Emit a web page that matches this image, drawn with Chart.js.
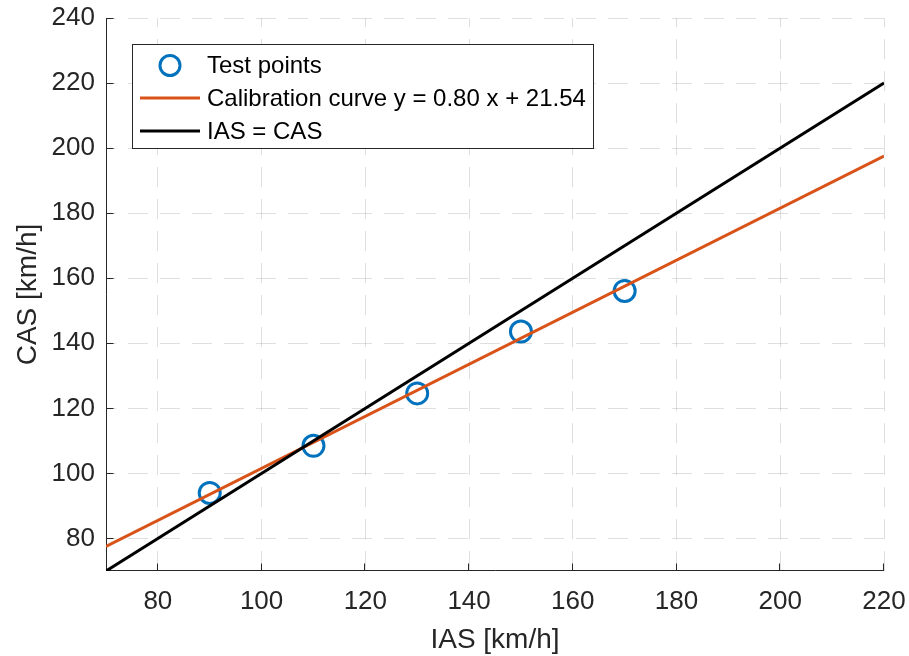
<!DOCTYPE html>
<html><head><meta charset="utf-8">
<script src="https://cdn.jsdelivr.net/npm/chart.js@4.4.1/dist/chart.umd.min.js"></script>
<style>html,body{margin:0;padding:0;background:#fff;}</style>
</head><body>
<canvas id="c" width="909" height="656" style="display:block;width:909px;height:656px"></canvas>
<script>
// ---- data ----
const testIAS = [90, 110, 130, 150, 170];
const testCAS = [94.0, 108.5, 124.6, 143.6, 156.1];
const calIAS = [70, 220];
const calCAS = [77.54, 197.54];
const refIAS = [70, 220];
const refCAS = [70, 220];
const xTicks = [80, 100, 120, 140, 160, 180, 200, 220];
const yTicks = [80, 100, 120, 140, 160, 180, 200, 220, 240];
const seriesLabels = ['Test points', 'Calibration curve y = 0.80 x + 21.54', 'IAS = CAS'];
const xTitle = 'IAS [km/h]';
const yTitle = 'CAS [km/h]';

const FONT = '"Liberation Sans", Arial, Helvetica, sans-serif';
const BLUE = '#0072BD', ORANGE = '#D95319', BLACK = '#000000', AX = '#262626';

const pts = (xs, ys) => xs.map((x, i) => ({x: x, y: ys[i]}));

const axesPlugin = {
  id: 'matlabAxes',
  beforeDatasetsDraw(chart) {
    const {ctx, chartArea: a, scales: {x, y}} = chart;
    ctx.save();
    ctx.strokeStyle = AX;
    ctx.lineWidth = 1;
    ctx.setLineDash([]);
    const L = Math.round(a.left) + 0.5, B = Math.round(a.bottom) - 0.5;
    ctx.beginPath();
    ctx.moveTo(L, Math.round(a.top));
    ctx.lineTo(L, B);
    ctx.lineTo(Math.round(a.right), B);
    xTicks.forEach(v => {
      const px = Math.round(x.getPixelForValue(v)) - 0.5;
      ctx.moveTo(px, B); ctx.lineTo(px, B - 7);
    });
    yTicks.forEach(v => {
      const py = Math.round(y.getPixelForValue(v)) + 0.5;
      ctx.moveTo(L, py); ctx.lineTo(L + 7, py);
    });
    ctx.stroke();
    ctx.restore();
  },
  afterDraw(chart) {
    const {ctx} = chart;
    ctx.save();
    // legend box
    ctx.fillStyle = '#ffffff';
    ctx.fillRect(132, 44, 461, 104);
    ctx.strokeStyle = AX;
    ctx.lineWidth = 1;
    ctx.strokeRect(132.5, 44.5, 461, 104);
    // marker
    ctx.strokeStyle = BLUE;
    ctx.lineWidth = 3;
    ctx.beginPath();
    ctx.arc(170, 65.5, 10, 0, Math.PI * 2);
    ctx.stroke();
    // lines
    ctx.strokeStyle = ORANGE;
    ctx.beginPath(); ctx.moveTo(140, 98); ctx.lineTo(200, 98); ctx.stroke();
    ctx.strokeStyle = BLACK;
    ctx.beginPath(); ctx.moveTo(140, 131); ctx.lineTo(200, 131); ctx.stroke();
    // text
    ctx.fillStyle = '#000';
    ctx.font = '24px ' + FONT;
    ctx.textBaseline = 'middle';
    ctx.textAlign = 'left';
    ctx.fillText(seriesLabels[0], 207, 66);
    ctx.fillText(seriesLabels[1], 207, 99);
    ctx.fillText(seriesLabels[2], 207, 132.5);
    ctx.restore();
  }
};

new Chart(document.getElementById('c'), {
  type: 'scatter',
  data: {
    datasets: [
      {
        label: seriesLabels[0], data: pts(testIAS, testCAS), order: 3,
        showLine: false, pointStyle: 'circle', pointRadius: 10.5,
        pointBorderWidth: 3, borderColor: BLUE, backgroundColor: 'rgba(0,0,0,0)'
      },
      {
        label: seriesLabels[1], data: pts(calIAS, calCAS), order: 2,
        showLine: true, pointRadius: 0, borderColor: ORANGE, borderWidth: 3, fill: false
      },
      {
        label: seriesLabels[2], data: pts(refIAS, refCAS), order: 1,
        showLine: true, pointRadius: 0, borderColor: BLACK, borderWidth: 3, fill: false
      }
    ]
  },
  options: {
    responsive: false,
    animation: false,
    devicePixelRatio: 1,
    layout: {padding: {top: 18, right: 25, left: 0, bottom: 0}},
    plugins: {legend: {display: false}, tooltip: {enabled: false}},
    scales: {
      x: {
        type: 'linear', min: 70, max: 220,
        afterBuildTicks: s => { s.ticks = xTicks.map(v => ({value: v})); },
        afterFit: s => { s.height = 85; s.paddingLeft = 0; s.paddingRight = 0; },
        grid: {color: 'rgba(38,38,38,0.15)', lineWidth: 1, drawTicks: false},
        border: {display: false, dash: [20, 12], dashOffset: 11},
        ticks: {color: AX, padding: 15, font: {family: FONT, size: 26}, maxRotation: 0, autoSkip: false,
                callback: v => String(v)},
        title: {display: true, text: xTitle, color: AX, font: {family: FONT, size: 28, lineHeight: 1},
                padding: {top: 0, bottom: 2}}
      },
      y: {
        type: 'linear', min: 70, max: 240,
        afterBuildTicks: s => { s.ticks = yTicks.map(v => ({value: v})); },
        afterFit: s => { s.width = 106; s.paddingTop = 0; s.paddingBottom = 0; },
        grid: {color: 'rgba(38,38,38,0.15)', lineWidth: 1, drawTicks: false},
        border: {display: false, dash: [20, 12], dashOffset: 10},
        ticks: {color: AX, padding: 11, font: {family: FONT, size: 26}, autoSkip: false,
                callback: v => String(v)},
        title: {display: true, text: yTitle, color: AX, font: {family: FONT, size: 28, lineHeight: 1},
                padding: {top: 14, bottom: 0}}
      }
    }
  },
  plugins: [axesPlugin]
});
</script>
</body></html>
